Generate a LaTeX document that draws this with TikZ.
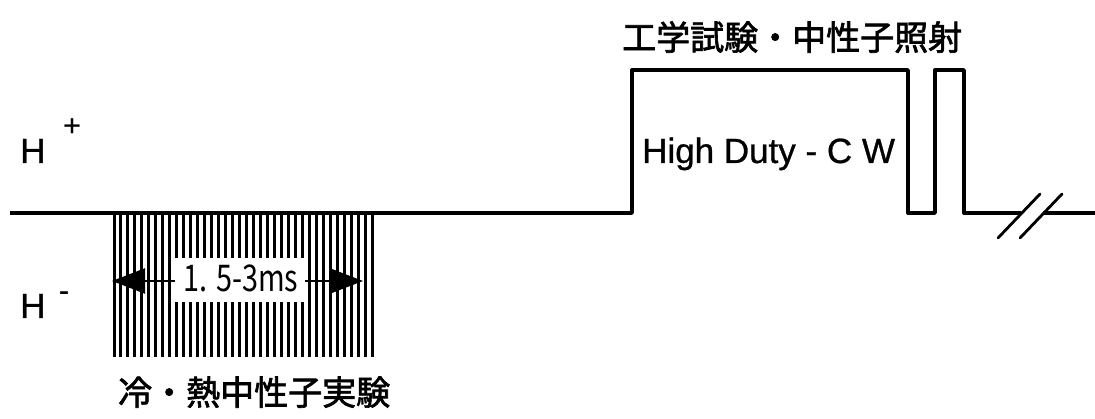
\documentclass[tikz,border=0pt]{standalone}
\usepackage{fontspec}
\usepackage{graphicx}
\setmainfont{Liberation Sans}
\newfontfamily\jp[FakeBold=2]{Noto Sans CJK JP}
\newfontfamily\jpthin{Noto Sans CJK JP}
\newfontfamily\latinb[FakeBold=0.8]{Liberation Sans}
\usetikzlibrary{arrows.meta}
\tikzset{
  wave/.style={line width=3.4pt, line join=round},
  hatch/.style={line width=3pt},
  jplabel/.style={font=\jp\fontsize{34}{36}\selectfont, inner sep=0pt},
  latin/.style={font=\latinb\fontsize{35}{38}\selectfont, inner sep=0pt},
  sup/.style={font=\latinb\fontsize{30}{32}\selectfont, inner sep=0pt},
  dimarrow/.style={line width=2.2pt, -{Triangle[length=33pt,width=25pt]}},
  breakmark/.style={line width=2.8pt, line cap=round}
}
\begin{document}
\begin{tikzpicture}[x=1pt,y=-1pt]
\useasboundingbox (0,0) rectangle (1095,419);
% hatched region
\foreach \i in {0,...,37} \draw[hatch] ({114+\i*258/37},213) -- ++(0,144);
% baseline and pulses
\coordinate (s) at (10,213);
\coordinate (b1) at (1021,213);
\coordinate (b2) at (1043,213);
\coordinate (e) at (1095,213);
\draw[wave] (s) -- (632,213) -- (632,70) -- (908,70) -- (908,213) -- (935,213) -- (935,70) -- (964,70) -- (964,213) -- (b1);
\draw[wave] (b2) -- (e);
\draw[breakmark] (998,238) -- (1040,194);
\draw[breakmark] (1020,238) -- (1062,194);
% dimension label
\node[fill=white, inner sep=0pt, minimum width=130pt, minimum height=44pt] (lbl) at (240,280) {};
\node[inner sep=0pt] (lbltxt) at (241,278) {\scalebox{0.9}[1.15]{\jpthin\fontsize{32}{34}\selectfont 1. 5-3ms}};
\coordinate (al) at (112,281);
\coordinate (ar) at (363,281);
\draw[dimarrow] (lbl.west |- al) -- (al);
\draw[dimarrow] (lbl.east |- ar) -- (ar);
% labels
\node[latin, anchor=base west] (hp) at (20,163) {H};
\node[sup] (plus) at (72,127) {+};
\node[latin, anchor=base west] (hm) at (20,318) {H};
\node[sup] (minus) at (64,296) {-};
\node[latin, anchor=base west] (hd) at (642,163) {High Duty - C W};
\node[jplabel, anchor=base west] (top) at (622,50) {工学試験・中性子照射};
\node[jplabel, anchor=base west] (bot) at (118,405) {冷・熱中性子実験};
\end{tikzpicture}
\end{document}
